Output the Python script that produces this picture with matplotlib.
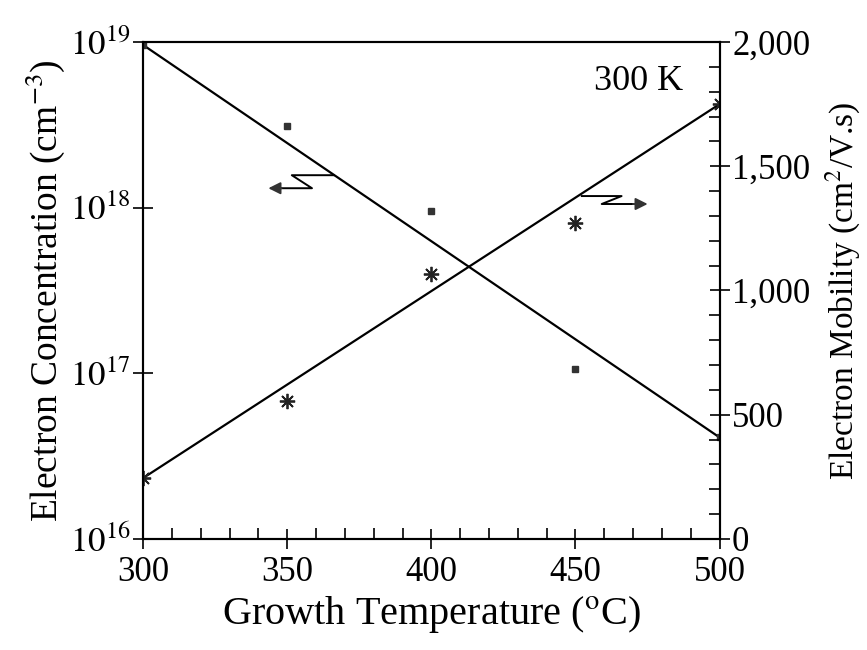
import numpy as np
import matplotlib
matplotlib.use('Agg')
import matplotlib.pyplot as plt
from matplotlib.ticker import FuncFormatter, MultipleLocator, FixedLocator

# data
temp = [300, 350, 400, 450, 500]
conc = [9.6e18, 3.1e18, 9.6e17, 1.06e17, 4.1e16]      # cm^-3
mob = [245, 555, 1066, 1272, 1750]                     # cm^2/V.s
# garis fit (ujung kiri dan kanan)
fit_temp = [300, 500]
fit_conc = [9.6e18, 4.1e16]
fit_mob = [245, 1750]

plt.rcParams['font.family'] = ['Liberation Serif', 'DejaVu Serif']
plt.rcParams['mathtext.fontset'] = 'stix'

fig = plt.figure(figsize=(8.67, 6.5), dpi=100)
ax = fig.add_axes([0.165, 0.1708, 0.665, 0.7646])
ax2 = ax.twinx()

fs = 25
# sumbu kiri: konsentrasi (log)
ax.plot(fit_temp, fit_conc, color='black', lw=1.6)
ax.plot(temp, conc, ls='none', marker='s', ms=4, color='#333333')
ax.set_yscale('log')
ax.set_ylim(1e16, 1e19)
ax.set_xlim(300, 500)
ax.yaxis.set_major_locator(FixedLocator([1e16, 1e17, 1e18, 1e19]))
ax.yaxis.set_minor_locator(FixedLocator([]))
ax.yaxis.set_major_formatter(FuncFormatter(lambda v, p: r'$10^{%d}$' % round(np.log10(v))))
ax.xaxis.set_major_locator(MultipleLocator(50))
ax.xaxis.set_minor_locator(MultipleLocator(10))
ax.tick_params(axis='x', which='major', direction='inout', length=14, width=1.2, labelsize=fs, pad=5)
ax.tick_params(axis='x', which='minor', direction='in', length=8, width=1.2)
ax.tick_params(axis='y', which='major', direction='inout', length=14, width=1.2, labelsize=fs, pad=2)

# sumbu kanan: mobilitas
ax2.plot(fit_temp, fit_mob, color='black', lw=1.6)
ax2.plot(temp, mob, ls='none', marker=(8, 2, 0), ms=11, mew=1.3, color='#222222')
ax2.set_ylim(0, 2000)
ax2.yaxis.set_major_locator(MultipleLocator(500))
ax2.yaxis.set_minor_locator(MultipleLocator(100))
ax2.yaxis.set_major_formatter(FuncFormatter(lambda v, p: '{:,.0f}'.format(v)))
ax2.tick_params(axis='y', which='major', direction='inout', length=14, width=1.2, labelsize=fs, pad=2)
ax2.tick_params(axis='y', which='minor', direction='in', length=8, width=1.2)

for a in (ax, ax2):
    for s in a.spines.values():
        s.set_linewidth(1.5)

ax.set_xlabel(r'Growth Temperature ($^{\rm o}$C)', fontsize=29, labelpad=4)
ax.set_ylabel(r'Electron Concentration (cm$^{-3}$)', fontsize=27, labelpad=2)
ax2.set_ylabel(r'Electron Mobility (cm$^{2}$/V.s)', fontsize=24, rotation=90, labelpad=10)

ax2.text(472, 1840, '300 K', fontsize=26, ha='center', va='center')

# panah zigzag
ax.plot([366.2, 351.6, 358.6, 348], [1.57e18, 1.57e18, 1.31e18, 1.31e18], color='black', lw=1.4)
ax.annotate('', xy=(342.5, 1.31e18), xytext=(349, 1.31e18),
            arrowprops=dict(arrowstyle='-|>', color='#333333', lw=1.4, mutation_scale=18))
ax2.plot([452.2, 466.0, 459.1, 470], [1380, 1380, 1348, 1348], color='black', lw=1.4)
ax2.annotate('', xy=(476, 1348), xytext=(469, 1348),
             arrowprops=dict(arrowstyle='-|>', color='#333333', lw=1.4, mutation_scale=18))

fig.savefig('out.png', dpi=100)
